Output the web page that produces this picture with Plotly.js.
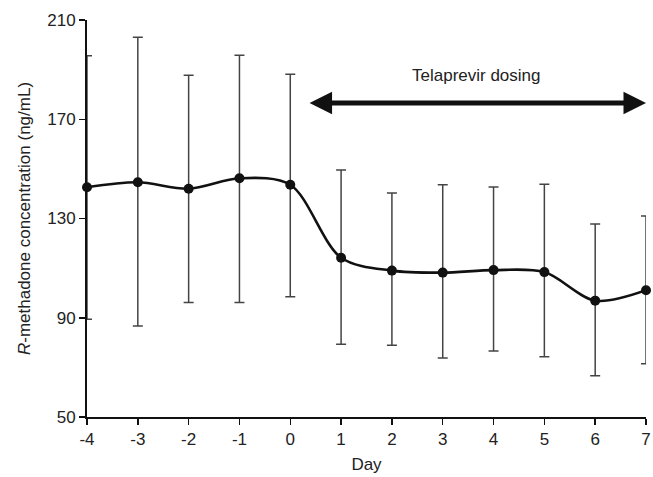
<!DOCTYPE html>
<html>
<head>
<meta charset="utf-8">
<script src="https://cdn.plot.ly/plotly-3.0.1.min.js"></script>
<style>html,body{margin:0;padding:0;background:#fff;}#chart{width:653px;height:477px;}</style>
</head>
<body>
<div id="chart"></div>
<script>
var days = [-4, -3, -2, -1, 0, 1, 2, 3, 4, 5, 6, 7];
var meanConc = [142.6, 144.6, 142.0, 146.2, 143.6, 114.2, 109.0, 108.2, 109.2, 108.4, 96.9, 101.1];
var upperConc = [195.6, 203.0, 187.7, 195.8, 188.1, 149.5, 140.3, 143.6, 142.7, 143.8, 127.8, 131.0];
var lowerConc = [89.4, 86.7, 96.1, 96.1, 98.5, 79.3, 78.9, 73.8, 76.6, 74.3, 66.6, 71.5];
var xTickVals = [-4, -3, -2, -1, 0, 1, 2, 3, 4, 5, 6, 7];
var xTickText = ["-4", "-3", "-2", "-1", "0", "1", "2", "3", "4", "5", "6", "7"];
var yTickVals = [50, 90, 130, 170, 210];
var yTickText = ["50", "90", "130", "170", "210"];
var dosingStart = 0.35, dosingEnd = 7, dosingY = 176.5;

var errPlus = upperConc.map(function(u, i){ return u - meanConc[i]; });
var errMinus = lowerConc.map(function(l, i){ return meanConc[i] - l; });

var font = "Liberation Sans, Arial, Helvetica, sans-serif";
var fs = 17;

var trace = {
  x: days, y: meanConc, type: 'scatter', mode: 'lines+markers',
  line: {shape: 'spline', smoothing: 0.9, color: '#111', width: 2.6},
  marker: {color: '#111', size: 10},
  error_y: {type: 'data', symmetric: false, array: errPlus, arrayminus: errMinus,
            color: '#444', thickness: 1.5, width: 5},
  cliponaxis: false
};

var layout = {
  width: 653, height: 477,
  margin: {l: 87, r: 7, t: 20, b: 60},
  paper_bgcolor: '#fff', plot_bgcolor: '#fff',
  showlegend: false,
  font: {family: font, size: fs, color: '#222'},
  xaxis: {
    range: [-4, 7], tickvals: xTickVals, ticktext: xTickText, ticklabeloverflow: 'allow',
    showgrid: false, zeroline: false, showline: true, linecolor: '#111', linewidth: 2,
    ticks: 'outside', ticklen: 6, tickwidth: 1.5, tickcolor: '#111',
    tickfont: {family: font, size: fs, color: '#222'},
    title: {text: 'Day', font: {family: font, size: fs, color: '#222'}, standoff: 10}
  },
  yaxis: {
    range: [50, 210], tickvals: yTickVals, ticktext: yTickText,
    showgrid: false, zeroline: false, showline: true, linecolor: '#111', linewidth: 2,
    ticks: 'outside', ticklen: 6, tickwidth: 1.5, tickcolor: '#111',
    tickfont: {family: font, size: fs, color: '#222'},
    title: {text: '<i>R</i>-methadone concentration (ng/mL)', font: {family: font, size: fs, color: '#222'}, standoff: 12}
  },
  annotations: [
    {x: 3.67, y: 187.8, xref: 'x', yref: 'y', text: 'Telaprevir dosing', showarrow: false,
     font: {family: font, size: fs, color: '#222'}},
    {x: dosingEnd, y: dosingY, ax: dosingStart, ay: dosingY, xref: 'x', yref: 'y', axref: 'x', ayref: 'y',
     text: '', showarrow: true, arrowside: 'end+start', arrowhead: 2, arrowsize: 0.9, arrowwidth: 5,
     arrowcolor: '#111', standoff: 0, startstandoff: 0}
  ]
};

Plotly.newPlot('chart', [trace], layout, {displayModeBar: false, staticPlot: true});
</script>
</body>
</html>
